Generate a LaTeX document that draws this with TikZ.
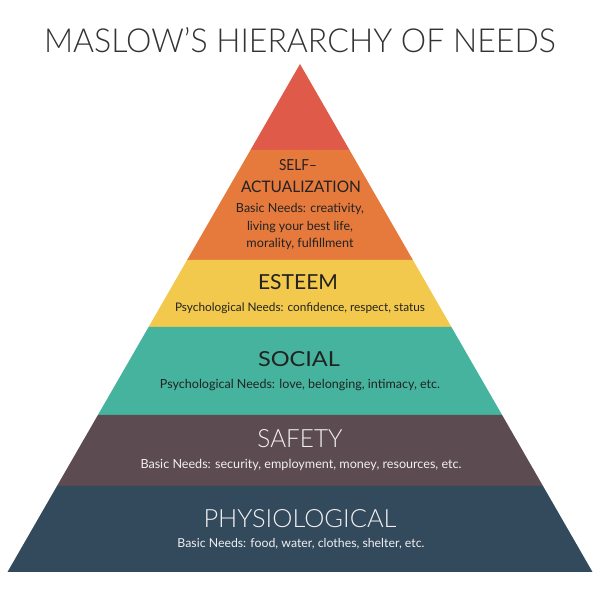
\documentclass[tikz,border=0pt]{standalone}
\usepackage{fontspec}
\setmainfont{Lato}[UprightFont=* Light, BoldFont=* Regular]
\definecolor{cred}{HTML}{E05A49}
\definecolor{corange}{HTML}{E57A3C}
\definecolor{cyellow}{HTML}{F2C94C}
\definecolor{cteal}{HTML}{45B39D}
\definecolor{cbrown}{HTML}{5C4B51}
\definecolor{cnavy}{HTML}{324A5B}
\definecolor{cdark}{HTML}{222222}
\definecolor{ctitle}{HTML}{333333}
\definecolor{clight}{HTML}{F2EFF2}
\newcommand{\fitw}[2]{\resizebox{#1pt}{!}{#2}}
\newcommand{\fitwh}[3]{\resizebox{#1pt}{#2pt}{#3}}
\tikzset{
  lbl/.style={anchor=base, inner sep=0pt, outer sep=0pt},
  darktxt/.style={lbl, text=cdark},
  lighttxt/.style={lbl, text=clight},
}
\begin{document}
\begin{tikzpicture}[x=1pt,y=1pt]
\useasboundingbox (0,0) rectangle (600,600);
\fill[white] (0,0) rectangle (600,600);
% bands (y in px from top -> 600-y)
\fill[cred]    (300,536) -- (349.5,450) -- (250.5,450) -- cycle;
\fill[corange] (250.5,450) -- (349.5,450) -- (412.9,340) -- (187.1,340) -- cycle;
\fill[cyellow] (187.1,340) -- (412.9,340) -- (451.4,273) -- (148.6,273) -- cycle;
\fill[cteal]   (148.6,273) -- (451.4,273) -- (502.1,185) -- (97.9,185) -- cycle;
\fill[cbrown]  (97.9,185) -- (502.1,185) -- (543,114) -- (57,114) -- cycle;
\fill[cnavy]   (57,114) -- (543,114) -- (592.5,28) -- (7.5,28) -- cycle;
% title
\node[lbl, text=ctitle] (title) at (300,547) {\fitwh{512}{25}{\fontsize{30}{30}\selectfont MASLOW’S HIERARCHY OF NEEDS}};
% self-actualization
\node[darktxt] (sa1) at (298,429) {\fitwh{38}{11}{\fontsize{12}{12}\selectfont\bfseries SELF–}};
\node[darktxt] (sa2) at (301,407) {\fitwh{120}{11.5}{\fontsize{14}{14}\selectfont\bfseries ACTUALIZATION}};
\node[darktxt] (sa3) at (300,387) {\fitw{128}{\fontsize{11}{11}\selectfont\bfseries Basic Needs: creativity,}};
\node[darktxt] (sa4) at (300,369) {\fitw{106}{\fontsize{11}{11}\selectfont\bfseries living your best life,}};
\node[darktxt] (sa5) at (300,352) {\fitw{107}{\fontsize{11}{11}\selectfont\bfseries morality, fulfillment}};
% esteem
\node[darktxt] (es1) at (298,310) {\fitwh{80}{15}{\fontsize{18}{18}\selectfont\bfseries ESTEEM}};
\node[darktxt] (es2) at (300,288) {\fitw{250}{\fontsize{10}{10}\selectfont\bfseries Psychological Needs: confidence, respect, status}};
% social
\node[darktxt] (so1) at (299,233) {\fitwh{82}{15}{\fontsize{18}{18}\selectfont\bfseries SOCIAL}};
\node[darktxt] (so2) at (300,211) {\fitw{280}{\fontsize{10}{10}\selectfont\bfseries Psychological Needs: love, belonging, intimacy, etc.}};
% safety
\node[lighttxt] (sf1) at (300,152) {\fitwh{85}{18}{\fontsize{21}{21}\selectfont SAFETY}};
\node[lighttxt] (sf2) at (301,131) {\fitw{321}{\fontsize{11}{11}\selectfont\bfseries Basic Needs: security, employment, money, resources, etc.}};
% physiological
\node[lighttxt] (ph1) at (300,72) {\fitwh{193}{18}{\fontsize{21}{21}\selectfont PHYSIOLOGICAL}};
\node[lighttxt] (ph2) at (301,52) {\fitw{247}{\fontsize{11}{11}\selectfont\bfseries Basic Needs: food, water, clothes, shelter, etc.}};
\end{tikzpicture}
\end{document}
